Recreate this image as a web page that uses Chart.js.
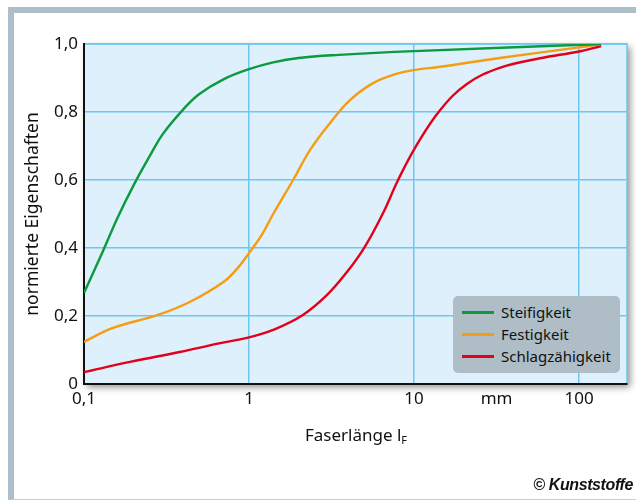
<!DOCTYPE html>
<html>
<head>
<meta charset="utf-8">
<script src="https://cdn.jsdelivr.net/npm/chart.js@4"></script>
<style>
body { margin:0; background:#fff; font-family:"Noto Sans", sans-serif; }
#wrap { position:relative; width:636px; height:500px; overflow:hidden; }
#frame { position:absolute; left:8px; top:7px; width:640px; height:493px; box-sizing:border-box;
  border-left:6px solid #adbec8; border-top:6px solid #adbec8; border-bottom:1px solid #c5d0d6; }
canvas { position:absolute; left:0; top:0; }
#legend { position:absolute; left:453px; top:296px; width:167px; height:77px; background:#aebdc6; border-radius:5px; }
.row { position:absolute; left:0; height:20px; }
.sw { position:absolute; left:9px; top:9px; width:32px; height:3px; }
.lb { position:absolute; left:48px; top:0; font-size:15px; line-height:20px; color:#111; white-space:nowrap; }
#xtitle { position:absolute; left:256px; width:200px; top:423px; text-align:center; font-size:17px; color:#111; }
#xtitle sub { font-size:11px; vertical-align:-3px; }
#copy { position:absolute; right:3px; top:476px; font-family:"Liberation Sans", sans-serif; font-weight:bold; font-style:italic; font-size:16px; letter-spacing:-0.4px; color:#111; }
</style>
</head>
<body>
<div id="wrap">
  <div id="frame"></div>
  <canvas id="myChart" width="636" height="500"></canvas>
  <div id="legend"></div>
  <div id="xtitle">Faserlänge l<sub>F</sub></div>
  <div id="copy">© Kunststoffe</div>
</div>
<script>
// Faserlänge in mm (log), normierte Werte 0..1
var steifX = [0.1, 0.13, 0.16, 0.2, 0.25, 0.3, 0.4, 0.5, 0.7, 1, 1.4, 2, 3.5, 10, 136];
var steifY = [0.268, 0.39, 0.49, 0.585, 0.67, 0.735, 0.808, 0.853, 0.896, 0.926, 0.946, 0.959, 0.968, 0.979, 1.0];

var festX = [0.1, 0.15, 0.28, 0.44, 0.7, 0.85, 1, 1.2, 1.4, 1.85, 2.34, 3.1, 4.09, 5.65, 7.9, 10.2, 14.4, 33, 100, 136];
var festY = [0.124, 0.165, 0.203, 0.242, 0.30, 0.34, 0.385, 0.44, 0.50, 0.60, 0.688, 0.768, 0.835, 0.885, 0.913, 0.924, 0.933, 0.959, 0.99, 1.0];

var schlagX = [0.1, 0.19, 0.38, 0.67, 1, 1.4, 2.12, 2.97, 3.93, 5.05, 6.49, 8.0, 10.2, 14.4, 21, 33, 58, 100, 136];
var schlagY = [0.035, 0.065, 0.094, 0.12, 0.137, 0.159, 0.203, 0.262, 0.33, 0.405, 0.503, 0.60, 0.697, 0.806, 0.883, 0.93, 0.958, 0.978, 0.994];

var names = ["Steifigkeit", "Festigkeit", "Schlagzähigkeit"];
var colors = ["#0b9a3e", "#f59d12", "#e3001b"];

var xTickValues = [0.1, 1, 10, 31.6, 100];
var xTickLabels = ["0,1", "1", "10", "mm", "100"];
var yTickValues = [0, 0.2, 0.4, 0.6, 0.8, 1.0];

function pts(xs, ys) {
  return xs.map(function (x, i) { return {x: x, y: ys[i]}; });
}
var series = [pts(steifX, steifY), pts(festX, festY), pts(schlagX, schlagY)];

var gridColor = "#6cc8f2";

// plot background with shadow
var bgPlugin = {
  id: "bg",
  beforeDraw: function (chart) {
    var a = chart.chartArea, ctx = chart.ctx;
    ctx.save();
    ctx.shadowColor = "rgba(0,0,0,0.45)";
    ctx.shadowBlur = 7;
    ctx.shadowOffsetX = 3;
    ctx.shadowOffsetY = 3;
    ctx.fillStyle = "#ddf0fc";
    ctx.fillRect(a.left, a.top, a.right - a.left, a.bottom - a.top);
    ctx.restore();
    ctx.save();
    ctx.strokeStyle = gridColor;
    ctx.lineWidth = 1.5;
    ctx.strokeRect(a.left, a.top, a.right - a.left, a.bottom - a.top);
    ctx.restore();
  }
};

new Chart("myChart", {
  type: "line",
  data: {
    datasets: series.map(function (d, i) {
      return {
        label: names[i],
        data: d,
        borderColor: colors[i],
        borderWidth: 2.4,
        pointRadius: 0,
        fill: false,
        tension: 0.4
      };
    })
  },
  options: {
    responsive: false,
    animation: false,
    devicePixelRatio: 1,
    layout: { padding: { left: 0, right: 9, top: 44, bottom: 40 } },
    plugins: { legend: { display: false }, tooltip: { enabled: false } },
    scales: {
      x: {
        type: "logarithmic",
        min: 0.1,
        max: 195,
        afterBuildTicks: function (s) { s.ticks = xTickValues.map(function (v) { return {value: v}; }); },
        afterFit: function (s) { s.height = 76; },
        ticks: {
          autoSkip: false, maxRotation: 0, padding: 5,
          font: { family: "Noto Sans", size: 17 }, color: "#111",
          callback: function (v, i) { return xTickLabels[i]; }
        },
        grid: {
          drawTicks: false, lineWidth: 1.5,
          color: function (c) { return xTickLabels[c.index] === "mm" ? "rgba(0,0,0,0)" : gridColor; }
        },
        border: { display: true, color: "#111", width: 2 }
      },
      y: {
        min: 0,
        max: 1,
        afterBuildTicks: function (s) { s.ticks = yTickValues.map(function (v) { return {value: v}; }); },
        afterFit: function (s) { s.width = 84; },
        ticks: {
          padding: 6,
          font: { family: "Noto Sans", size: 17 }, color: "#111",
          callback: function (v) { return v === 0 ? "0" : v.toFixed(1).replace(".", ","); }
        },
        grid: { drawTicks: false, lineWidth: 1.5, color: gridColor },
        border: { display: true, color: "#111", width: 2 },
        title: {
          display: true, text: "normierte Eigenschaften", color: "#111",
          font: { family: "Noto Sans", size: 17.5 }, padding: { top: 23, bottom: 0 }
        }
      }
    }
  },
  plugins: [bgPlugin]
});

// legend box inside plot
var leg = document.getElementById("legend");
names.forEach(function (n, i) {
  var r = document.createElement("div");
  r.className = "row";
  r.style.top = (6 + i * 22) + "px";
  r.innerHTML = '<div class="sw" style="background:' + colors[i] + '"></div><div class="lb">' + n + '</div>';
  leg.appendChild(r);
});
</script>
</body>
</html>
